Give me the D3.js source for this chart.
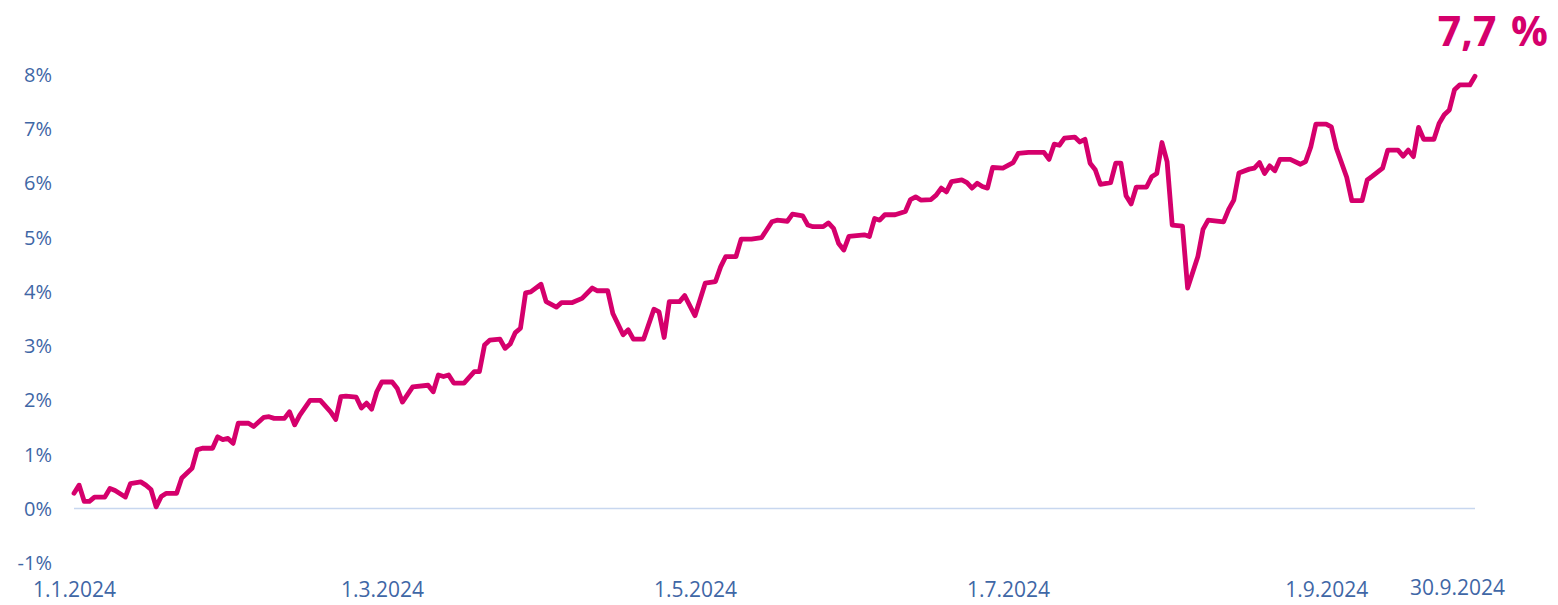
<!DOCTYPE html>
<html><head><meta charset="utf-8">
<script src="https://cdn.jsdelivr.net/npm/d3@7"></script>
<style>html,body{margin:0;padding:0;background:#fff;overflow:hidden}</style>
</head><body>
<svg id="c" width="1558" height="605"></svg>
<script>
const dates = ["2024-01-01","2024-01-02","2024-01-03","2024-01-04","2024-01-05","2024-01-07","2024-01-08","2024-01-09","2024-01-11","2024-01-12","2024-01-14","2024-01-15","2024-01-16","2024-01-17","2024-01-18","2024-01-19","2024-01-21","2024-01-22","2024-01-24","2024-01-25","2024-01-26","2024-01-28","2024-01-29","2024-01-30","2024-01-31",
"2024-02-01","2024-02-02","2024-02-04","2024-02-05","2024-02-07","2024-02-08","2024-02-09","2024-02-11","2024-02-12","2024-02-13","2024-02-14","2024-02-16","2024-02-18","2024-02-20","2024-02-21","2024-02-22","2024-02-23","2024-02-25","2024-02-26","2024-02-27","2024-02-28","2024-02-29",
"2024-03-01","2024-03-03","2024-03-04","2024-03-05","2024-03-07","2024-03-10","2024-03-11","2024-03-12","2024-03-13","2024-03-14","2024-03-15","2024-03-17","2024-03-19","2024-03-20","2024-03-21","2024-03-22","2024-03-24","2024-03-25","2024-03-26","2024-03-27","2024-03-28","2024-03-29","2024-03-30",
"2024-04-01","2024-04-02","2024-04-04","2024-04-05","2024-04-07","2024-04-09","2024-04-11","2024-04-12","2024-04-14","2024-04-15","2024-04-17","2024-04-18","2024-04-19","2024-04-21","2024-04-23","2024-04-24","2024-04-25","2024-04-26","2024-04-28","2024-04-29",
"2024-05-01","2024-05-03","2024-05-05","2024-05-06","2024-05-07","2024-05-09","2024-05-10","2024-05-12","2024-05-14","2024-05-16","2024-05-17","2024-05-19","2024-05-20","2024-05-22","2024-05-23","2024-05-24","2024-05-26","2024-05-27","2024-05-28","2024-05-29","2024-05-30","2024-05-31",
"2024-06-03","2024-06-04","2024-06-05","2024-06-06","2024-06-07","2024-06-09","2024-06-11","2024-06-12","2024-06-13","2024-06-14","2024-06-16","2024-06-17","2024-06-18","2024-06-19","2024-06-20","2024-06-22","2024-06-23","2024-06-24","2024-06-25","2024-06-26","2024-06-27","2024-06-28","2024-06-30",
"2024-07-02","2024-07-03","2024-07-05","2024-07-08","2024-07-09","2024-07-10","2024-07-11","2024-07-12","2024-07-14","2024-07-15","2024-07-16","2024-07-17","2024-07-18","2024-07-19","2024-07-21","2024-07-22","2024-07-23","2024-07-24","2024-07-25","2024-07-26","2024-07-28","2024-07-29","2024-07-30","2024-07-31",
"2024-08-01","2024-08-02","2024-08-04","2024-08-05","2024-08-07","2024-08-08","2024-08-09","2024-08-12","2024-08-13","2024-08-14","2024-08-15","2024-08-17","2024-08-18","2024-08-19","2024-08-20","2024-08-21","2024-08-22","2024-08-23","2024-08-25","2024-08-27","2024-08-28","2024-08-29","2024-08-30",
"2024-09-01","2024-09-02","2024-09-03","2024-09-05","2024-09-06","2024-09-08","2024-09-09","2024-09-10","2024-09-12","2024-09-13","2024-09-15","2024-09-16","2024-09-17","2024-09-18","2024-09-19","2024-09-20","2024-09-22","2024-09-23","2024-09-24","2024-09-25","2024-09-26","2024-09-27","2024-09-29","2024-09-30"];
const values = [0.28,0.43,0.13,0.13,0.21,0.21,0.37,0.33,0.21,0.46,0.49,0.43,0.35,0.03,0.22,0.28,0.28,0.56,0.74,1.08,1.11,1.11,1.32,1.27,1.29,
1.20,1.57,1.57,1.51,1.68,1.69,1.66,1.66,1.78,1.54,1.72,1.99,1.99,1.78,1.64,2.06,2.07,2.05,1.85,1.94,1.83,2.15,
2.33,2.33,2.21,1.96,2.24,2.27,2.15,2.46,2.43,2.46,2.31,2.31,2.52,2.52,3.01,3.10,3.12,2.95,3.03,3.24,3.32,3.97,3.99,
4.13,3.81,3.71,3.79,3.79,3.87,4.06,4.01,4.01,3.59,3.20,3.29,3.12,3.12,3.67,3.62,3.15,3.81,3.81,3.92,
3.55,4.15,4.18,4.45,4.64,4.64,4.96,4.96,4.99,5.28,5.31,5.29,5.42,5.39,5.22,5.19,5.19,5.26,5.16,4.88,4.76,5.01,
5.04,5.01,5.34,5.31,5.41,5.41,5.47,5.69,5.74,5.68,5.69,5.77,5.90,5.83,6.02,6.05,6.00,5.90,5.99,5.93,5.90,6.28,6.27,
6.37,6.54,6.56,6.56,6.43,6.71,6.69,6.82,6.84,6.75,6.80,6.36,6.24,5.97,6.00,6.36,6.36,5.76,5.61,5.92,5.92,6.11,6.17,6.74,
6.39,5.22,5.20,4.06,4.64,5.14,5.31,5.28,5.51,5.68,6.18,6.25,6.27,6.37,6.17,6.31,6.22,6.43,6.43,6.34,6.39,6.66,7.08,
7.08,7.03,6.63,6.10,5.67,5.67,6.05,6.12,6.27,6.60,6.60,6.49,6.60,6.48,7.02,6.80,6.80,7.09,7.25,7.34,7.71,7.80,7.80,7.96];
const yTicks = [-1,0,1,2,3,4,5,6,7,8];
const xTickDates = ["2024-01-01","2024-03-01","2024-05-01","2024-07-01","2024-09-01","2024-09-30"];
const xTickLabels = ["1.1.2024","1.3.2024","1.5.2024","1.7.2024","1.9.2024","30.9.2024"];
const endLabel = "7,7 %";

const parse = d3.timeParse("%Y-%m-%d");
const data = dates.map((d,i)=>({date:parse(d), v:values[i]}));
const svg = d3.select("#c");
const x = d3.scaleTime().domain([parse("2024-01-01"), parse("2024-09-30")]).range([74, 1475]);
const y = d3.scaleLinear().domain([0, 8]).range([508.5, 74.1]);
const labelColor = "#3f67a6";
const lineColor = "#d5006c";
const font = "'Open Sans', 'Noto Sans', sans-serif";

// y axis labels
const yAxis = d3.axisLeft(y).tickValues(yTicks).tickFormat(d=>d+"%").tickSize(0).tickPadding(0);
const yg = svg.append("g").attr("transform","translate(52,0)").call(yAxis);
yg.select(".domain").remove();
yg.selectAll("text").attr("fill",labelColor).style("font-family",font).style("font-size","20px").attr("dy","0.35em");

// zero line
svg.append("line").attr("x1",x.range()[0]).attr("x2",x.range()[1]).attr("y1",y(0)).attr("y2",y(0))
  .attr("stroke","#c8d7ef").attr("stroke-width",1.5);

// x axis labels
const xAxis = d3.axisBottom(x).tickValues(xTickDates.map(parse)).tickFormat((d,i)=>xTickLabels[i]).tickSize(0).tickPadding(0);
const xg = svg.append("g").attr("transform","translate(0,582)").call(xAxis);
xg.select(".domain").remove();
xg.selectAll("text").attr("fill",labelColor).style("font-family",font).style("font-size","21px").attr("dy","0.71em");
xg.selectAll(".tick").filter((d,i)=>i===xTickDates.length-1).select("text").attr("dx",-18).attr("dy","0.6em");

// line
const line = d3.line().x(d=>x(d.date)).y(d=>y(d.v)).curve(d3.curveLinear);
svg.append("path").datum(data).attr("d",line).attr("fill","none").attr("stroke",lineColor)
  .attr("stroke-width",4.8).attr("stroke-linejoin","round").attr("stroke-linecap","round");

// end label
svg.append("text").attr("x",1548).attr("y",46).attr("text-anchor","end").attr("fill",lineColor)
  .style("font-family",font).style("font-weight","700").style("font-size","41px").style("word-spacing","4px").text(endLabel);
</script>
</body></html>
